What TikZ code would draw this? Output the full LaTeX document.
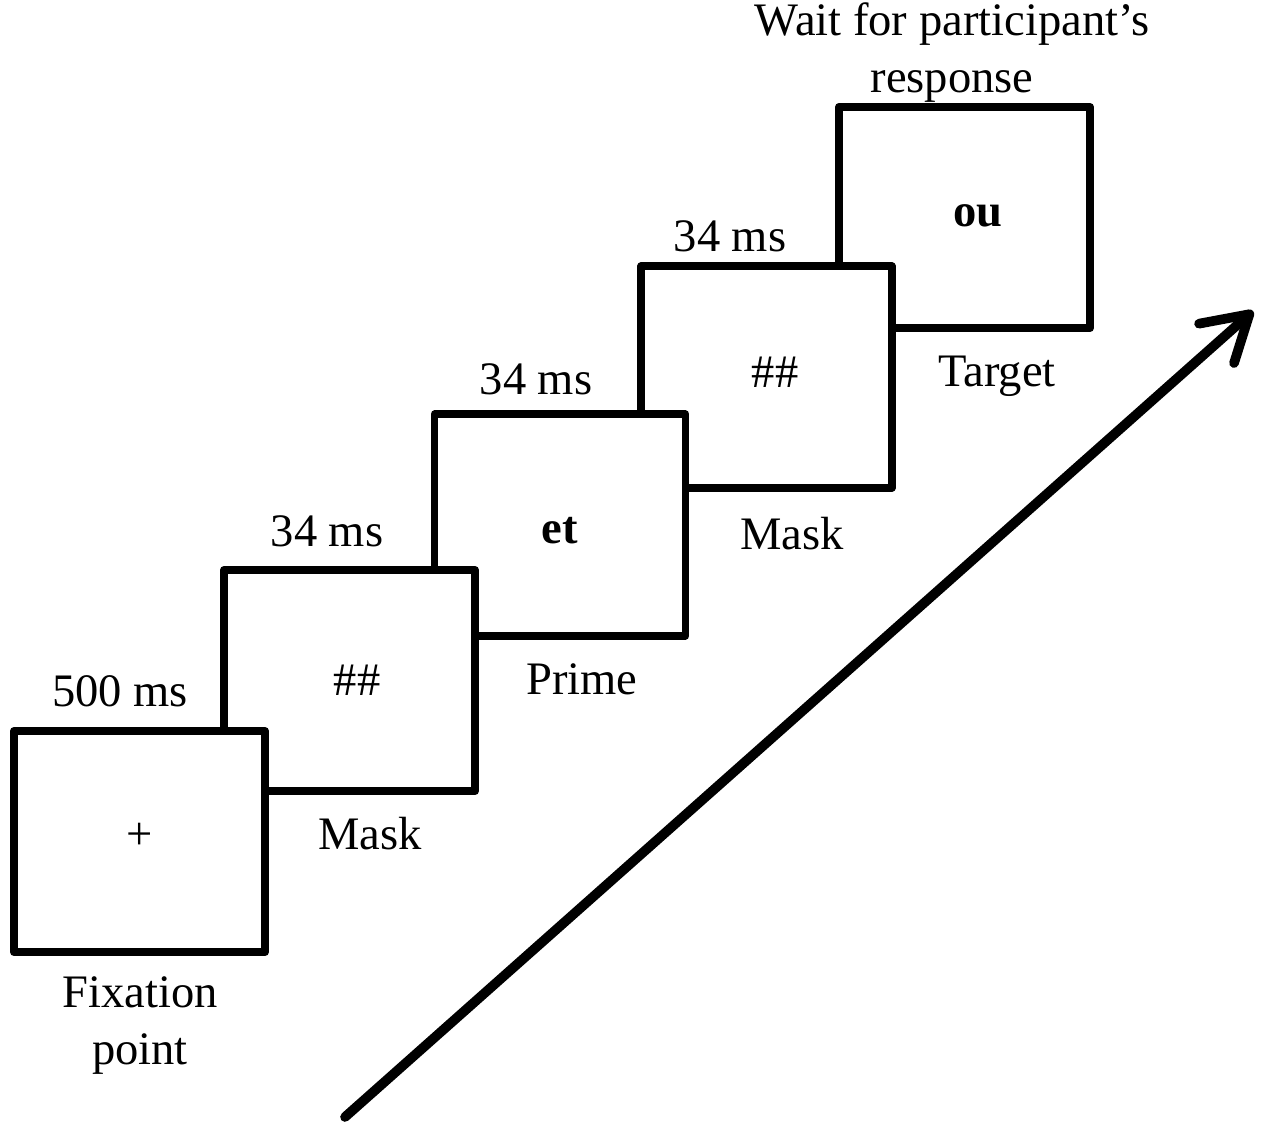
\documentclass[tikz,border=0pt]{standalone}
\usepackage{fontspec}
\setmainfont{Liberation Serif}
\usetikzlibrary{arrows.meta}
\tikzset{%
    screen/.style={inner sep=0pt,outer sep=0pt,shape=rectangle,draw,fill=white,line width=4.4pt,line join=round,minimum width=5.02cm,minimum height=4.43cm},
    stim/.style={inner sep=0pt,font=\fontsize{26.5}{32}\selectfont},
    duration/.style={inner sep=0pt,anchor=base,font=\fontsize{26.5}{32}\selectfont},
    stimname/.style={inner sep=0pt,anchor=base,align=center,font=\fontsize{26.5}{32}\selectfont},
    timeline/.style={line width=5.5pt,line cap=round,-{Straight Barb[length=25pt,width=30pt,line join=round,line cap=round]}},
}
\begin{document}
\begin{tikzpicture}[x=0.02cm,y=-0.02cm]
        \useasboundingbox (0,0) rectangle (1267,1137);

        \node [screen] (target) at (964.5,217.5) {};
        \node [screen] (mask2) at (766.5,377) {};
        \node [screen] (prime) at (560,525) {};
        \node [screen] (mask1) at (349.5,680.5) {};
        \node [screen] (fix) at (139.5,841.5) {};

        \node [stim] (plus) at (140,836) {+};
        \node [stim] (hash1) at (357,680) {\#\#};
        \node [stim,font=\fontsize{26.5}{32}\selectfont\bfseries] (et) at (560,531) {et};
        \node [stim] (hash2) at (775,372) {\#\#};
        \node [stim,font=\fontsize{26.5}{32}\selectfont\bfseries] (ou) at (978,216) {ou};

        \node [duration] (t1) at (120,706) {500 ms};
        \node [duration] (t2) at (327,546) {34 ms};
        \node [duration] (t3) at (536,394) {34 ms};
        \node [duration] (t4) at (730,251) {34 ms};
        \node [stimname] (t5) at (952,92) {Wait for participant's\\response};

        \node [stimname] (n1) at (140,1064) {Fixation\\point};
        \node [stimname] (n2) at (370,849) {Mask};
        \node [stimname] (n3) at (582,694) {Prime};
        \node [stimname] (n4) at (792,549) {Mask};
        \node [stimname] (n5) at (997,386) {Target};

        \coordinate (start) at (345,1117);
        \coordinate (tip) at (1253,311);
        \draw [timeline] (start) -- (tip);
      \end{tikzpicture}
\end{document}
